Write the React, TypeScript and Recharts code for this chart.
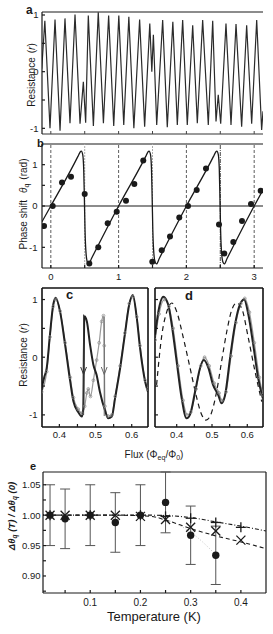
import React from 'react';
import { ComposedChart, Line, XAxis, YAxis, ReferenceLine, Scatter, ErrorBar } from 'recharts';

const FONT = '"Liberation Sans", Arial, Helvetica, sans-serif';
const INK = '#1a1a1a';

// ---------- Panel a : resistance oscillation vs flux ----------
const aFlux = [-0.134, -0.088, -0.012, 0.062, 0.136, 0.209, 0.283, 0.357, 0.431, 0.48, 0.514, 0.553, 0.628, 0.7, 0.776, 0.853, 0.928, 1.003, 1.076, 1.151, 1.225, 1.31, 1.384, 1.46, 1.49, 1.513, 1.562, 1.65, 1.718, 1.8, 1.866, 1.945, 2.013, 2.093, 2.161, 2.24, 2.323, 2.388, 2.437, 2.47, 2.506, 2.584, 2.658, 2.732, 2.815, 2.889, 2.963, 3.037, 3.11, 3.13];
const aResistance = [0.05, 0.9, -1.0, 0.92, -1.04, 0.94, -0.91, 1.01, -0.92, -0.18, -0.9, 0.99, -0.96, 1.05, -0.91, 0.99, -0.96, 0.99, -0.94, 0.97, -1.0, 0.92, -0.97, 0.85, 0.0, 0.65, -0.94, 0.91, -0.98, 0.88, -0.94, 0.91, -0.94, 0.82, -0.91, 0.91, -0.94, 0.9, -0.88, -0.41, -0.92, 0.85, -0.94, 0.84, -0.97, 0.82, -0.92, 0.91, -1.03, -0.7];

// ---------- Panel b : phase shift ----------
const fluxTicks = [0, 0.5, 1, 1.5, 2, 2.5, 3];
const bFitFlux = [-0.13, 0, 0.4, 0.43, 0.45, 0.47, 0.485, 0.495, 0.505, 0.52, 0.54, 0.56, 0.6, 1.0, 1.4, 1.43, 1.45, 1.47, 1.485, 1.495, 1.505, 1.52, 1.54, 1.56, 1.6, 2.0, 2.4, 2.43, 2.45, 2.47, 2.485, 2.495, 2.505, 2.52, 2.54, 2.56, 2.6, 3.0, 3.13];
const bFitPhase = [-0.38, 0, 1.2, 1.3, 1.33, 1.25, 0.9, 0.2, -0.6, -1.15, -1.36, -1.4, -1.27, 0, 1.2, 1.3, 1.33, 1.25, 0.9, 0.2, -0.6, -1.15, -1.36, -1.4, -1.27, 0, 1.2, 1.3, 1.33, 1.25, 0.9, 0.2, -0.6, -1.15, -1.36, -1.4, -1.27, 0, 0.39];
const bDotFlux = [-0.1, 0.028, 0.165, 0.298, 0.5, 0.568, 0.7, 0.839, 0.972, 1.109, 1.232, 1.364, 1.497, 1.636, 1.758, 1.895, 2.024, 2.152, 2.289, 2.481, 2.559, 2.692, 2.82, 2.953, 3.096];
const bDotPhase = [-0.485, 0.0, 0.57, 0.71, 0.29, -1.39, -1.0, -0.42, -0.14, 0.13, 0.53, 1.1, -1.35, -1.07, -0.74, -0.28, 0.0, 0.39, 0.91, -0.45, -1.15, -0.87, -0.36, 0.05, 0.37];
const bIntegerLines = [0, 1, 2, 3];
const bHalfLinesLight = [0.5, 1.5];
const bHalfLinesDark = [2.5];

// ---------- Panel c ----------
const cdTicks = [0.4, 0.45, 0.5, 0.55, 0.6];
const cBlackFlux = [0.351, 0.358, 0.365, 0.374, 0.383, 0.39, 0.402, 0.416, 0.43, 0.439, 0.452, 0.462, 0.466, 0.469, 0.476, 0.485, 0.494, 0.503, 0.512, 0.526, 0.535, 0.545, 0.554, 0.568, 0.581, 0.593, 0.603, 0.614, 0.623, 0.637, 0.645];
const cBlackRes = [-0.54, -0.35, -0.19, 0.39, 0.91, 1.03, 0.79, 0.21, -0.42, -0.77, -0.95, -1.03, -0.9, 0.71, 0.62, 0.21, -0.13, -0.31, -0.6, -0.92, -1.06, -1.03, -0.71, -0.19, 0.39, 0.91, 1.08, 0.68, 0.16, -0.42, -0.6];
const cGreyFlux = [0.351, 0.365, 0.374, 0.383, 0.39, 0.402, 0.416, 0.43, 0.439, 0.452, 0.462, 0.47, 0.476, 0.48, 0.486, 0.494, 0.503, 0.51, 0.517, 0.522, 0.524, 0.526, 0.535, 0.545, 0.554, 0.568, 0.581, 0.593, 0.603, 0.614, 0.623, 0.637, 0.645];
const cGreyRes = [-0.6, -0.25, 0.35, 0.88, 1.0, 0.8, 0.25, -0.35, -0.7, -0.9, -0.97, -0.85, -0.62, -0.55, -0.68, -0.4, -0.05, 0.25, 0.62, 0.72, 0.2, -0.85, -1.02, -1.0, -0.68, -0.15, 0.42, 0.93, 1.05, 0.7, 0.2, -0.4, -0.55];
const arrowFlux = [0.467, 0.524];
const arrowTop = [0.74, 0.7];
const arrowBottom = [-1.0, -1.02];
const arrowTip = [-0.3, -0.3];
const arrowWing = [-0.17, -0.17];
const arrowHalfWidth = 0.008;

// ---------- Panel d ----------
const dBlackFlux = [0.339, 0.348, 0.362, 0.376, 0.386, 0.4, 0.414, 0.428, 0.438, 0.452, 0.466, 0.477, 0.49, 0.503, 0.518, 0.527, 0.537, 0.551, 0.565, 0.579, 0.591, 0.603, 0.617, 0.631, 0.644];
const dBlackRes = [0.39, 0.79, 1.05, 0.91, 0.56, -0.08, -0.71, -1.06, -0.99, -0.6, -0.19, -0.05, -0.19, -0.48, -0.66, -0.8, -0.66, -0.02, 0.56, 0.91, 1.0, 0.74, 0.21, -0.37, -0.71];
const dGreyFlux = [0.339, 0.35, 0.365, 0.378, 0.39, 0.404, 0.418, 0.43, 0.44, 0.455, 0.468, 0.479, 0.492, 0.506, 0.52, 0.528, 0.54, 0.554, 0.568, 0.582, 0.593, 0.606, 0.62, 0.634, 0.644];
const dGreyRes = [0.3, 0.75, 1.0, 0.88, 0.5, -0.15, -0.75, -1.0, -0.95, -0.55, -0.15, 0.0, -0.15, -0.45, -0.62, -0.75, -0.6, 0.02, 0.6, 0.93, 1.02, 0.78, 0.25, -0.35, -0.65];
const dDashFlux = [0.343, 0.358, 0.372, 0.386, 0.4, 0.419, 0.438, 0.455, 0.469, 0.483, 0.494, 0.513, 0.527, 0.542, 0.556, 0.57, 0.584, 0.603, 0.622, 0.641];
const dDashRes = [-0.48, 0.39, 0.79, 0.94, 0.79, 0.33, -0.19, -0.66, -0.97, -1.09, -1.03, -0.6, -0.08, 0.45, 0.82, 0.94, 0.85, 0.33, -0.25, -0.77];

// ---------- Panel e ----------
const eTTicks = [0.05, 0.1, 0.15, 0.2, 0.25, 0.3, 0.35, 0.4];
const eRatioTicks = [0.875, 0.9, 0.925, 0.95, 0.975, 1.0, 1.025, 1.05];
const eCircleT = [0.02, 0.05, 0.1, 0.15, 0.2, 0.25, 0.3, 0.35];
const eCircleRatio = [1.0, 0.994, 1.0, 0.988, 1.0, 1.021, 0.967, 0.934];
const eCircleErr = [0.05, 0.049, 0.05, 0.049, 0.05, 0.05, 0.048, 0.048];
const eCrossT = [0.02, 0.05, 0.1, 0.15, 0.2, 0.25, 0.3, 0.35, 0.4];
const eCrossRatio = [1.0, 1.0, 1.0, 1.0, 0.998, 0.993, 0.98, 0.974, 0.959];
const ePlusT = [0.02, 0.1, 0.2, 0.25, 0.3, 0.35, 0.4];
const ePlusRatio = [1.0, 1.0, 1.0, 0.998, 0.995, 0.988, 0.98];
const eUpperT = [0.0, 0.15, 0.22, 0.3, 0.35, 0.4, 0.45];
const eUpperRatio = [1.0, 1.0, 1.0, 0.996, 0.989, 0.982, 0.974];
const eLowerT = [0.0, 0.15, 0.22, 0.25, 0.3, 0.35, 0.4, 0.45];
const eLowerRatio = [1.0, 1.0, 0.998, 0.992, 0.978, 0.966, 0.956, 0.945];
const eGreyT = [0.2, 0.25, 0.3, 0.35];
const eGreyRatio = [1.0, 0.993, 0.972, 0.935];

// ---------- helpers ----------
const zip = (xs: number[], ys: number[]) => xs.map((x, i) => ({ x, y: ys[i] }));
const intLabel = (v: number) => (Math.abs(v - Math.round(v)) < 1e-6 ? String(Math.round(v)) : '');
const tenthLabel = (v: number) => (Math.abs(v * 10 - Math.round(v * 10)) < 1e-6 ? v.toFixed(1) : '');
const twentiethLabel = (v: number) => (Math.abs(v * 20 - Math.round(v * 20)) < 1e-6 ? v.toFixed(2) : '');
const noLabel = () => '';
const tickStyle = { fontSize: 9.5, fill: INK, fontFamily: FONT };
const frame = { stroke: INK, strokeWidth: 1.2 };
const heavyFrame = { stroke: '#111', strokeWidth: 1.6 };

const aData = zip(aFlux, aResistance);
const bFit = zip(bFitFlux, bFitPhase);
const bDots = zip(bDotFlux, bDotPhase);
const cBlack = zip(cBlackFlux, cBlackRes);
const cGrey = zip(cGreyFlux, cGreyRes);
const arrowShafts = arrowFlux.map((x, i) => [{ x, y: arrowTop[i] }, { x, y: arrowBottom[i] }]);
const arrowHeads = arrowFlux.map((x, i) => [
  { x: x - arrowHalfWidth, y: arrowWing[i] },
  { x, y: arrowTip[i] },
  { x: x + arrowHalfWidth, y: arrowWing[i] },
]);
const dBlack = zip(dBlackFlux, dBlackRes);
const dGrey = zip(dGreyFlux, dGreyRes);
const dDash = zip(dDashFlux, dDashRes);
const eCircles = eCircleT.map((x, i) => ({ x, y: eCircleRatio[i], err: eCircleErr[i] }));
const eCross = zip(eCrossT, eCrossRatio);
const ePlus = zip(ePlusT, ePlusRatio);
const eUpper = zip(eUpperT, eUpperRatio);
const eLower = zip(eLowerT, eLowerRatio);
const eGrey = zip(eGreyT, eGreyRatio);

const DotShape = (r: number) => (p: any) => <circle cx={p.cx} cy={p.cy} r={r} fill={INK} />;
const XShape = (p: any) => {
  const s = 4.5;
  return (
    <g stroke={INK} strokeWidth={1.3}>
      <line x1={p.cx - s} y1={p.cy - s} x2={p.cx + s} y2={p.cy + s} />
      <line x1={p.cx - s} y1={p.cy + s} x2={p.cx + s} y2={p.cy - s} />
    </g>
  );
};
const PlusShape = (p: any) => {
  const s = 5;
  return (
    <g stroke={INK} strokeWidth={1.3}>
      <line x1={p.cx - s} y1={p.cy} x2={p.cx + s} y2={p.cy} />
      <line x1={p.cx} y1={p.cy - s} x2={p.cx} y2={p.cy + s} />
    </g>
  );
};

function PanelA() {
  return (
    <ComposedChart width={266} height={144} margin={{ top: 12, right: 3, bottom: 0, left: 0 }}>
      <XAxis dataKey="x" type="number" domain={[-0.13, 3.13]} allowDataOverflow ticks={fluxTicks} interval={0}
        tickFormatter={noLabel} tickSize={-3} height={10} axisLine={{ stroke: '#777', strokeWidth: 1.6 }} tickLine={{ stroke: '#444' }} />
      <YAxis dataKey="y" type="number" domain={[-1.1, 1.053]} allowDataOverflow ticks={[-1, -0.5, 0, 0.5, 1]} interval={0}
        tickFormatter={intLabel} width={42} tickSize={-3} tickMargin={6.5} tick={tickStyle} axisLine={frame} tickLine={frame} />
      <ReferenceLine y={1.053} stroke={INK} strokeWidth={1.2} ifOverflow="visible" />
      <Line data={aData} dataKey="y" type="linear" stroke="#2b2b2b" strokeWidth={1.2} dot={false} isAnimationActive={false} />
    </ComposedChart>
  );
}

function PanelB() {
  return (
    <ComposedChart width={266} height={150} margin={{ top: 10, right: 3, bottom: 0, left: 0 }}>
      <XAxis dataKey="x" type="number" domain={[-0.13, 3.13]} allowDataOverflow ticks={fluxTicks} interval={0}
        tickFormatter={intLabel} tickSize={-3} tickMargin={8} height={16} tick={tickStyle} axisLine={frame} tickLine={frame} />
      <YAxis dataKey="y" type="number" domain={[-1.5, 1.5]} allowDataOverflow ticks={[-1, -0.5, 0, 0.5, 1]} interval={0}
        tickFormatter={intLabel} width={42} tickSize={-3} tickMargin={7.5} tick={tickStyle} axisLine={frame} tickLine={frame} />
      <ReferenceLine y={1.5} stroke={INK} strokeWidth={1.2} ifOverflow="visible" />
      {bIntegerLines.map((v) => (
        <ReferenceLine key={'i' + v} x={v} stroke="#333" strokeWidth={0.8} strokeDasharray="3 2" />
      ))}
      {bHalfLinesLight.map((v) => (
        <ReferenceLine key={'h' + v} x={v} stroke="#aaa" strokeWidth={1} strokeDasharray="2 1" />
      ))}
      {bHalfLinesDark.map((v) => (
        <ReferenceLine key={'d' + v} x={v} stroke="#333" strokeWidth={0.9} strokeDasharray="4 1 1 1" />
      ))}
      <ReferenceLine y={0} stroke={INK} strokeWidth={1.2} />
      <Line data={bFit} dataKey="y" type="monotone" stroke={INK} strokeWidth={1.3} dot={false} isAnimationActive={false} />
      <Scatter data={bDots} shape={DotShape(3)} isAnimationActive={false} />
    </ComposedChart>
  );
}

function PanelC() {
  return (
    <ComposedChart width={150} height={167} margin={{ top: 10, right: 2, bottom: 0, left: 0 }}>
      <XAxis dataKey="x" type="number" domain={[0.352, 0.645]} allowDataOverflow ticks={cdTicks} interval={0}
        tickFormatter={tenthLabel} tickSize={-3} tickMargin={7.5} height={18} tick={tickStyle} axisLine={heavyFrame} tickLine={frame} />
      <YAxis dataKey="y" type="number" domain={[-1.21, 1.2]} allowDataOverflow ticks={[-1, -0.5, 0, 0.5, 1]} interval={0}
        tickFormatter={intLabel} width={42} tickSize={-3} tickMargin={7.5} tick={tickStyle} axisLine={heavyFrame} tickLine={frame} />
      <ReferenceLine y={1.2} stroke="#111" strokeWidth={1.6} ifOverflow="visible" />
      <ReferenceLine x={0.645} stroke="#111" strokeWidth={1.6} ifOverflow="visible" />
      <Line data={cGrey} dataKey="y" type="monotone" stroke="#9a9a9a" strokeWidth={1.2}
        dot={{ r: 1.4, stroke: '#8a8a8a', strokeWidth: 0.7, fill: 'none' }} isAnimationActive={false} />
      <Line data={cBlack} dataKey="y" type="monotone" stroke="#222" strokeWidth={2} dot={false} isAnimationActive={false} />
      {arrowShafts.map((d, i) => (
        <Line key={'s' + i} data={d} dataKey="y" type="linear" stroke={i === 0 ? '#333' : '#666'} strokeWidth={1} dot={false} isAnimationActive={false} />
      ))}
      {arrowHeads.map((d, i) => (
        <Line key={'h' + i} data={d} dataKey="y" type="linear" stroke={i === 0 ? '#333' : '#666'} strokeWidth={1} dot={false} isAnimationActive={false} />
      ))}
    </ComposedChart>
  );
}

function PanelD() {
  return (
    <ComposedChart width={152} height={167} margin={{ top: 10, right: 2, bottom: 0, left: 0 }}>
      <XAxis dataKey="x" type="number" domain={[0.3385, 0.6445]} allowDataOverflow ticks={cdTicks} interval={0}
        tickFormatter={tenthLabel} tickSize={-3} tickMargin={7.5} height={18} tick={tickStyle} axisLine={heavyFrame} tickLine={frame} />
      <YAxis dataKey="y" type="number" domain={[-1.21, 1.2]} allowDataOverflow ticks={[-1, -0.5, 0, 0.5, 1]} interval={0}
        tickFormatter={noLabel} width={42} tickSize={-3} tick={tickStyle} axisLine={heavyFrame} tickLine={frame} />
      <ReferenceLine y={1.2} stroke="#111" strokeWidth={1.6} ifOverflow="visible" />
      <ReferenceLine x={0.6445} stroke="#111" strokeWidth={1.6} ifOverflow="visible" />
      <Line data={dDash} dataKey="y" type="monotone" stroke={INK} strokeWidth={1.2} strokeDasharray="5 4" dot={false} isAnimationActive={false} />
      <Line data={dGrey} dataKey="y" type="monotone" stroke="#9a9a9a" strokeWidth={1.2}
        dot={{ r: 1.4, stroke: '#8a8a8a', strokeWidth: 0.7, fill: 'none' }} isAnimationActive={false} />
      <Line data={dBlack} dataKey="y" type="monotone" stroke="#222" strokeWidth={2} dot={false} isAnimationActive={false} />
    </ComposedChart>
  );
}

function PanelE() {
  return (
    <ComposedChart width={268} height={151} margin={{ top: 10, right: 2, bottom: 0, left: 0 }}>
      <XAxis dataKey="x" type="number" domain={[0.006, 0.45]} allowDataOverflow ticks={eTTicks} interval={0}
        tickFormatter={tenthLabel} tickSize={-3} tickMargin={9} height={20} tick={{ ...tickStyle, fontSize: 10 }} axisLine={frame} tickLine={frame} />
      <YAxis dataKey="y" type="number" domain={[0.872, 1.071]} allowDataOverflow ticks={eRatioTicks} interval={0}
        tickFormatter={twentiethLabel} width={43} tickSize={-3} tickMargin={5.5} tick={tickStyle} axisLine={frame} tickLine={frame} />
      <ReferenceLine y={1.071} stroke={INK} strokeWidth={1.2} ifOverflow="visible" />
      <ReferenceLine x={0.45} stroke={INK} strokeWidth={1.2} ifOverflow="visible" />
      <Line data={eGrey} dataKey="y" type="monotone" stroke="#c4c4c4" strokeWidth={1} strokeDasharray="1 2" dot={false} isAnimationActive={false} />
      <Line data={eUpper} dataKey="y" type="monotone" stroke={INK} strokeWidth={1.1} strokeDasharray="4 2 1 2" dot={false} isAnimationActive={false} />
      <Line data={eLower} dataKey="y" type="monotone" stroke={INK} strokeWidth={1.1} strokeDasharray="4 3" dot={false} isAnimationActive={false} />
      <Scatter data={eCircles} shape={DotShape(3.7)} isAnimationActive={false}>
        <ErrorBar dataKey="err" direction="y" width={5} stroke="#555" strokeWidth={1} />
      </Scatter>
      <Scatter data={eCross} shape={XShape} isAnimationActive={false} />
      <Scatter data={ePlus} shape={PlusShape} isAnimationActive={false} />
    </ComposedChart>
  );
}

function Overlay() {
  return (
    <svg width={273} height={634} style={{ position: 'absolute', left: 0, top: 0, pointerEvents: 'none' }} fontFamily={FONT} fill={INK}>
      <text x={26} y={14} fontSize={12} fontWeight="bold">a</text>
      <text x={37} y={147} fontSize={11} fontWeight="bold">b</text>
      <text x={66} y={299} fontSize={13} fontWeight="bold">c</text>
      <text x={185} y={300} fontSize={13} fontWeight="bold">d</text>
      <text x={30} y={470} fontSize={11} fontWeight="bold">e</text>

      <text transform="translate(34.5,75) rotate(-90)" textAnchor="middle" fontSize={10}>
        Resistance<tspan dx={4}>(</tspan><tspan fontStyle="italic">r</tspan><tspan>)</tspan>
      </text>
      <text transform="translate(27,204) rotate(-90)" textAnchor="middle" fontSize={10}>
        Phase shift<tspan dx={7} fontStyle="italic">θ</tspan><tspan fontSize={7} dy={2}>q</tspan><tspan dx={4} dy={-2}>(rad)</tspan>
      </text>
      <text transform="translate(26.5,355) rotate(-90)" textAnchor="middle" fontSize={10}>
        Resistance<tspan dx={4}>(</tspan><tspan fontStyle="italic">r</tspan><tspan>)</tspan>
      </text>
      <text transform="translate(15,516) rotate(-90)" textAnchor="middle" fontSize={9.5} fontStyle="italic" fontWeight="bold">
        Δθ<tspan fontSize={6.5} dy={2}>q</tspan><tspan dy={-2}> (T) / Δθ</tspan><tspan fontSize={6.5} dy={2}>q</tspan><tspan dy={-2}> (0)</tspan>
      </text>

      <text x={154} y={458} textAnchor="middle" fontSize={10}>
        Flux (Φ<tspan fontSize={7} dy={2}>eq</tspan><tspan dy={-2}>/Φ</tspan><tspan fontSize={7} dy={2}>0</tspan><tspan dy={-2}>)</tspan>
      </text>
      <text x={154} y={621} textAnchor="middle" fontSize={13}>Temperature (K)</text>
    </svg>
  );
}

export default function App() {
  return (
    <div style={{ position: 'absolute', left: 0, top: 0, width: 273, height: 634, background: '#fff', overflow: 'hidden', fontFamily: FONT }}>
      <div style={{ position: 'absolute', left: 0, top: 0 }}><PanelA /></div>
      <div style={{ position: 'absolute', left: 0, top: 134 }}><PanelB /></div>
      <div style={{ position: 'absolute', left: 0, top: 278 }}><PanelC /></div>
      <div style={{ position: 'absolute', left: 113, top: 278 }}><PanelD /></div>
      <div style={{ position: 'absolute', left: 0, top: 462 }}><PanelE /></div>
      <Overlay />
    </div>
  );
}
